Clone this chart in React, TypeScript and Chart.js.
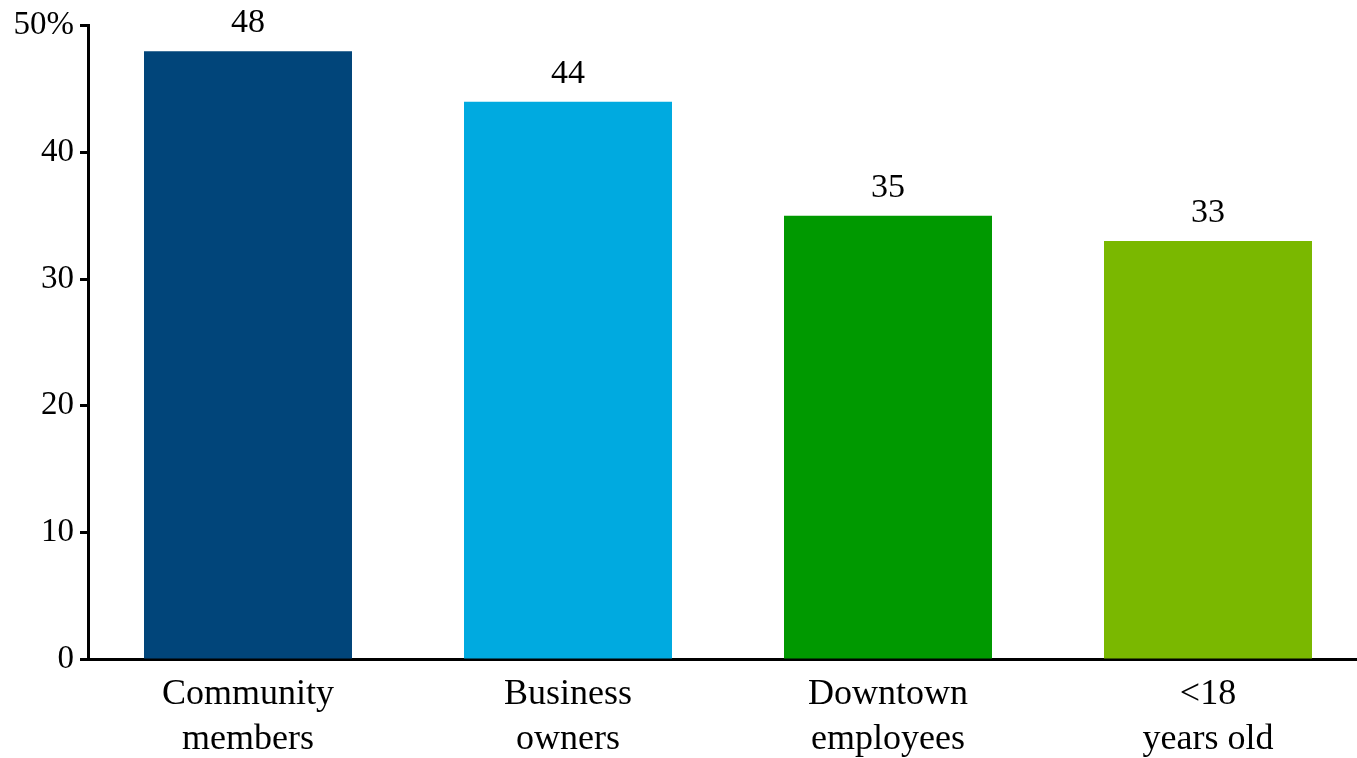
import React, { useEffect, useRef } from "react";
import { Chart, registerables } from "chart.js";

Chart.register(...registerables);

const categories: string[][] = [
  ["Community", "members"],
  ["Business", "owners"],
  ["Downtown", "employees"],
  ["<18", "years old"],
];
const values: number[] = [48, 44, 35, 33];
const barColors: string[] = ["#01457A", "#00AAE0", "#009900", "#7AB800"];
const yTicks: number[] = [0, 10, 20, 30, 40, 50];

const FONT = "'Liberation Serif', 'Times New Roman', serif";

const valueLabels = {
  id: "valueLabels",
  afterDatasetsDraw(chart: any) {
    const ctx = chart.ctx;
    const meta = chart.getDatasetMeta(0);
    ctx.save();
    ctx.font = `34px ${FONT}`;
    ctx.fillStyle = "#000";
    ctx.textAlign = "center";
    ctx.textBaseline = "alphabetic";
    meta.data.forEach((bar: any, i: number) => {
      ctx.fillText(String(values[i]), bar.x, bar.y - 19);
    });
    ctx.restore();
  },
};

export default function App() {
  const ref = useRef<HTMLCanvasElement>(null);
  useEffect(() => {
    if (!ref.current) return;
    const chart = new Chart(ref.current, {
      type: "bar",
      data: {
        labels: categories,
        datasets: [
          {
            data: values,
            backgroundColor: barColors,
            borderWidth: 0,
            barPercentage: 0.65,
            categoryPercentage: 1,
          },
        ],
      },
      options: {
        responsive: false,
        animation: false,
        devicePixelRatio: 1,
        layout: { padding: { top: 25, right: 0, left: 0, bottom: 0 } },
        plugins: {
          legend: { display: false },
          tooltip: { enabled: false },
        },
        scales: {
          x: {
            grid: { display: true, drawOnChartArea: false, drawTicks: false },
            border: { display: true, color: "#000", width: 3 },
            ticks: {
              color: "#000",
              padding: 13,
              font: { family: FONT, size: 36, lineHeight: 1.25 },
              maxRotation: 0,
              autoSkip: false,
            },
            afterBuildTicks(scale: any) {
              // each category spans 320px on a 1269px-wide plot area
              scale._valueRange = 1269 / 320;
            },
            afterFit(scale: any) {
              scale.height = 99;
            },
          },
          y: {
            min: 0,
            max: 50,
            afterBuildTicks(scale: any) {
              scale.ticks = yTicks.map((v) => ({ value: v }));
            },
            grid: {
              display: true,
              drawOnChartArea: false,
              drawTicks: true,
              tickLength: 8,
              tickWidth: 3,
              tickColor: "#000",
            },
            border: { display: true, color: "#000", width: 3 },
            ticks: {
              color: "#000",
              padding: 6,
              font: { family: FONT, size: 33 },
              callback: (v: any) => (v === 50 ? "50%" : String(v)),
            },
            afterFit(scale: any) {
              scale.width = 88;
            },
          },
        },
      },
      plugins: [valueLabels],
    });
    return () => chart.destroy();
  }, []);
  return (
    <canvas
      ref={ref}
      width={1357}
      height={758}
      style={{ position: "absolute", left: 0, top: 0, display: "block" }}
    />
  );
}
